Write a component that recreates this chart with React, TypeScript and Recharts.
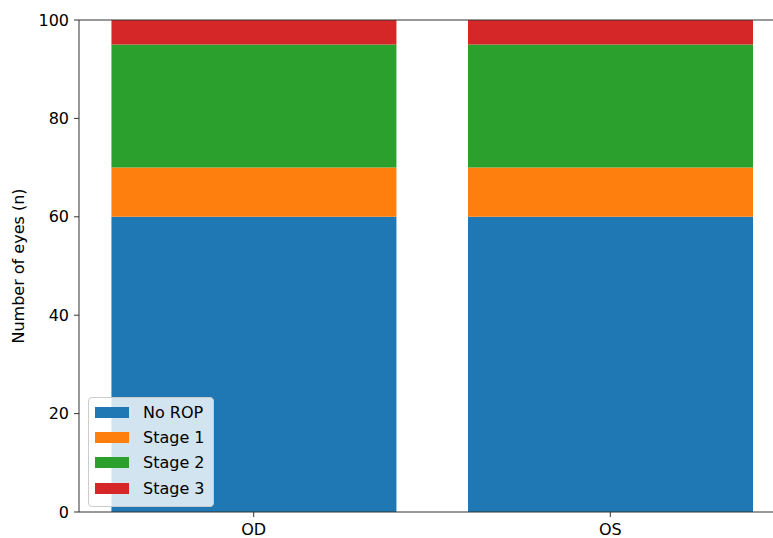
import React from "react";
import { BarChart, Bar, XAxis, YAxis, ReferenceLine } from "recharts";

const eyes = ["OD", "OS"];
const noRop = [60, 60];
const stage1 = [10, 10];
const stage2 = [25, 25];
const stage3 = [5, 5];
const yTicks = [0, 20, 40, 60, 80, 100];

const series = [
  { key: "noRop", name: "No ROP", color: "#1f77b4" },
  { key: "stage1", name: "Stage 1", color: "#ff7f0e" },
  { key: "stage2", name: "Stage 2", color: "#2ca02c" },
  { key: "stage3", name: "Stage 3", color: "#d62728" },
];

const data = eyes.map((eye, i) => ({
  x: i,
  eye,
  noRop: noRop[i],
  stage1: stage1[i],
  stage2: stage2[i],
  stage3: stage3[i],
}));

const font = "'DejaVu Sans', sans-serif";
const tickStyle = { fill: "#000", fontSize: 16, fontFamily: font };

// matplotlib-like legend box, sits over the lower-left of the plot
const LegendBox = () => (
  <div
    style={{
      position: "absolute",
      left: 88,
      top: 397,
      background: "rgba(255,255,255,0.8)",
      border: "1px solid #cccccc",
      borderRadius: 4,
      padding: "2px 8px 5px 6px",
      fontFamily: font,
      fontSize: 16,
      color: "#000",
    }}
  >
    {series.map((s) => (
      <div
        key={s.key}
        style={{ display: "flex", alignItems: "center", height: 25.2 }}
      >
        <span
          style={{
            display: "inline-block",
            width: 34,
            height: 11,
            background: s.color,
            marginRight: 14,
          }}
        />
        <span>{s.name}</span>
      </div>
    ))}
  </div>
);

export default function App() {
  return (
    <div
      style={{
        position: "absolute",
        left: 0,
        top: 0,
        width: 773,
        height: 538,
        overflow: "hidden",
        background: "#fff",
      }}
    >
      <BarChart
        width={800}
        height={538}
        data={data}
        margin={{ top: 20, right: 15, bottom: 0, left: 0 }}
      >
        <XAxis
          dataKey="x"
          type="number"
          domain={[-0.49, 1.49]}
          ticks={[0, 1]}
          tickFormatter={(v: number) => eyes[v] ?? ""}
          height={26}
          stroke="#333"
          tickSize={5}
          tickMargin={7}
          tick={tickStyle}
          allowDataOverflow
        />
        <YAxis
          domain={[0, 100]}
          ticks={yTicks}
          width={79}
          stroke="#333"
          tickSize={5}
          tickMargin={5}
          tick={tickStyle}
          label={{
            value: "Number of eyes (n)",
            angle: -90,
            position: "insideLeft",
            offset: 18,
            style: {
              textAnchor: "middle",
              fill: "#000",
              fontSize: 16,
              fontFamily: font,
            },
          }}
        />
        <ReferenceLine y={100} stroke="#333" />
        {series.map((s) => (
          <Bar
            key={s.key}
            dataKey={s.key}
            name={s.name}
            stackId="a"
            fill={s.color}
            barSize={285}
            isAnimationActive={false}
          />
        ))}
      </BarChart>
      <LegendBox />
    </div>
  );
}
